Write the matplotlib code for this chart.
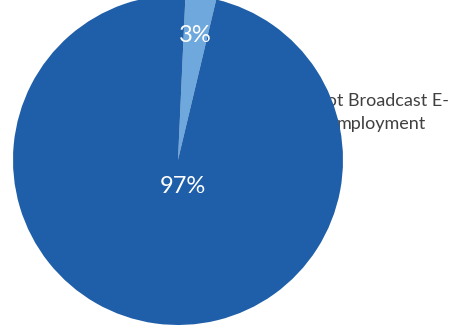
import matplotlib.pyplot as plt
import numpy as np

# share of employment, light slice first
shares = [3, 97]
colors = ['#6fa8dc', '#1f5ea8']
label_text = 'Not Broadcast E-\nmployment'

plt.rcParams['font.family'] = ['Lato', 'DejaVu Sans']

fig = plt.figure(figsize=(4.56, 3.27), dpi=100)
# the pie is a bit taller than the canvas, top gets clipped
ax = fig.add_axes([13 / 456, 2 / 327, 330 / 456, 330 / 327])

wedges, texts, autotexts = ax.pie(
    shares,
    colors=colors,
    startangle=76.6,
    counterclock=True,
    autopct='%d%%',
    pctdistance=0.76,
    wedgeprops=dict(linewidth=0),
    textprops=dict(color='white', fontsize=17),
)
ax.set_xlim(-1, 1)
ax.set_ylim(-1, 1)
ax.axis('off')

# big slice gets its label close to the centre
dists = [0.76, 0.165]
for w, t, d in zip(wedges, autotexts, dists):
    mid = np.deg2rad((w.theta1 + w.theta2) / 2)
    t.set_position((d * np.cos(mid) + (0.05 if d < 0.5 else 0), d * np.sin(mid)))
    t.set_va('center')

# category label sits underneath the pie wedges
ax.text(381.5 / 456, 1 - 128.5 / 327, label_text, transform=fig.transFigure,
        ha='center', va='baseline', fontsize=13, color='#404040',
        linespacing=1.52, zorder=0, clip_on=False)

fig.savefig('out.png', dpi=100)
